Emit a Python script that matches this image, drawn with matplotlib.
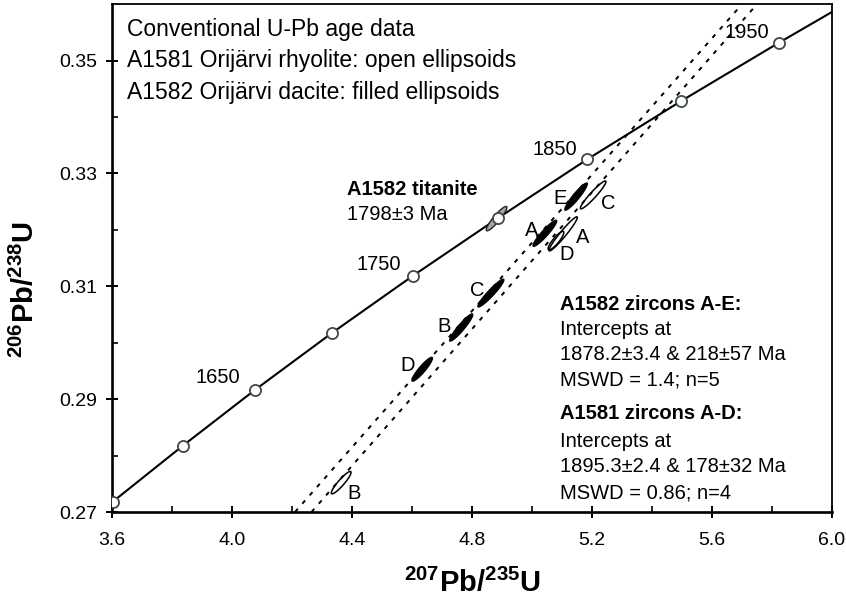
import numpy as np
import matplotlib
matplotlib.use("Agg")
import matplotlib.pyplot as plt
from matplotlib.patches import Polygon

plt.rcParams['font.family'] = ['Liberation Sans', 'DejaVu Sans']
plt.rcParams['mathtext.fontset'] = 'custom'
plt.rcParams['mathtext.bf'] = 'Liberation Sans:bold'
plt.rcParams['mathtext.rm'] = 'Liberation Sans'
plt.rcParams['mathtext.default'] = 'bf'

### DATA

# concordia age markers (Ma) and their ratios
conc_ages = [1550, 1600, 1650, 1700, 1750, 1800, 1850, 1900, 1950, 2000]
conc_x = [3.602, 3.835, 4.078, 4.335, 4.604, 4.887, 5.184, 5.496, 5.824, 6.168]
conc_y = [0.2718, 0.2817, 0.2917, 0.3018, 0.3119, 0.3221, 0.3325, 0.3428, 0.3532, 0.3638]
labelled_ages = [1650, 1750, 1850, 1950]
age_label_x = [3.953, 4.49, 5.077, 5.717]
age_label_y = [0.2939, 0.3139, 0.3342, 0.3550]

# discordia chords: A1582 (left), A1581 (right)
chord_x = [[4.21, 5.70], [4.265, 5.75]]
chord_y = [[0.27, 0.36], [0.27, 0.36]]

# A1582 zircons (filled)
fill_names = ['E', 'A', 'C', 'B', 'D']
fill_x = [5.147, 5.043, 4.863, 4.764, 4.634]
fill_y = [0.3259, 0.3194, 0.3088, 0.3027, 0.2953]
fill_dx = [0.074, 0.078, 0.086, 0.076, 0.067]
fill_dy = [0.0048, 0.0046, 0.0049, 0.0048, 0.0042]
fill_lab_x = [5.093, 4.999, 4.818, 4.707, 4.584]
fill_lab_y = [0.3255, 0.3199, 0.3093, 0.3028, 0.2960]

# A1581 zircons (open)
open_names = ['C', 'A', 'D', 'B']
open_x = [5.204, 5.104, 5.08, 4.364]
open_y = [0.3262, 0.3193, 0.3181, 0.2752]
open_dx = [0.084, 0.093, 0.05, 0.064]
open_dy = [0.0049, 0.0060, 0.0032, 0.0039]
open_lab_x = [5.254, 5.169, 5.116, 4.407]
open_lab_y = [0.3246, 0.3187, 0.3157, 0.2733]

# A1582 titanite
tit_x, tit_y, tit_dx, tit_dy = 4.882, 0.3220, 0.0667, 0.00425

fig = plt.figure(figsize=(8.46, 6.02), dpi=100)
ax = fig.add_axes([0.1324, 0.1495, 0.851, 0.8435])
ax.set_xlim(3.6, 6.0)
ax.set_ylim(0.27, 0.36)


def ellipse(cx, cy, dx, dy, w_px, **kw):
    # build the ellipse in pixel space so it keeps its shape on the skewed axes
    T = ax.transData
    c = T.transform((cx, cy))
    u = T.transform((cx + dx / 2, cy + dy / 2)) - c
    n = np.array([-u[1], u[0]]) / np.hypot(*u) * w_px / 2
    t = np.linspace(0, 2 * np.pi, 80)
    pts = c + np.outer(np.cos(t), u) + np.outer(np.sin(t), n)
    ax.add_patch(Polygon(T.inverted().transform(pts), closed=True, zorder=4, **kw))


# chords
for cx_, cy_ in zip(chord_x, chord_y):
    ax.plot(cx_, cy_, color='black', lw=1.4, ls=(0, (2.2, 3.5)), zorder=2)

# concordia
ax.plot(conc_x, conc_y, color='black', lw=1.5, zorder=3)
ax.plot(conc_x, conc_y, 'o', ms=8, mfc='white', mec='#3d4a45', mew=1.3, zorder=5)
for a, lx, ly in zip(labelled_ages, age_label_x, age_label_y):
    ax.text(lx, ly, str(a), fontsize=14.5, ha='center', va='center', zorder=6)

# ellipses
ellipse(tit_x, tit_y, tit_dx, tit_dy, 6.5, facecolor='#a6a6a6', edgecolor='#222222', lw=1.0)
for i in range(len(fill_names)):
    ellipse(fill_x[i], fill_y[i], fill_dx[i], fill_dy[i], 6.5, facecolor='black', edgecolor='black', lw=0.8)
    ax.text(fill_lab_x[i], fill_lab_y[i], fill_names[i], fontsize=14.5, ha='center', va='center')
for i in range(len(open_names)):
    ellipse(open_x[i], open_y[i], open_dx[i], open_dy[i], 6, facecolor='none', edgecolor='black', lw=1.1)
    ax.text(open_lab_x[i], open_lab_y[i], open_names[i], fontsize=14.5, ha='center', va='center')

# text blocks
head = ['Conventional U-Pb age data',
        'A1581 Orijärvi rhyolite: open ellipsoids',
        'A1582 Orijärvi dacite: filled ellipsoids']
for k, s in enumerate(head):
    ax.text(15 / 720, (512 - 30 - k * 31.5) / 507, s, transform=ax.transAxes,
            fontsize=16.5, va='center')

ax.text(4.383, 0.3272, 'A1582 titanite', fontsize=14.5, fontweight='bold', va='center')
ax.text(4.383, 0.3227, '1798±3 Ma', fontsize=14.5, va='center')

right_block = [('A1582 zircons A-E:', 'bold'), ('Intercepts at', 'normal'),
               ('1878.2±3.4 & 218±57 Ma', 'normal'), ('MSWD = 1.4; n=5', 'normal'),
               ('A1581 zircons A-D:', 'bold'), ('Intercepts at', 'normal'),
               ('1895.3±2.4 & 178±32 Ma', 'normal'), ('MSWD = 0.86; n=4', 'normal')]
ys = [305, 330, 355, 380, 414, 442, 467, 493]
for (s, wt), yp in zip(right_block, ys):
    ax.text(448 / 720, (512 - yp) / 507, s, transform=ax.transAxes, fontsize=14.5,
            fontweight=wt, va='center')

# axes styling
ax.set_xticks(np.arange(3.6, 6.01, 0.4))
ax.set_xticks(np.arange(3.8, 6.0, 0.4), minor=True)
ax.set_yticks([0.27, 0.29, 0.31, 0.33, 0.35])
ax.set_yticks([0.28, 0.30, 0.32, 0.34], minor=True)
ax.set_xticklabels(['3.6', '4.0', '4.4', '4.8', '5.2', '5.6', '6.0'])
ax.set_yticklabels(['0.27', '0.29', '0.31', '0.33', '0.35'])
ax.tick_params(which='major', direction='inout', length=9, width=1.4, labelsize=14)
ax.tick_params(axis='x', which='major', pad=10)
ax.tick_params(axis='y', which='major', pad=6)
ax.tick_params(which='minor', direction='in', length=4.5, width=1.2)
for side in ['left', 'bottom']:
    ax.spines[side].set_linewidth(1.9)
for side in ['top', 'right']:
    ax.spines[side].set_linewidth(1.3)

ax.set_xlabel('$^{207}$Pb/$^{235}$U', fontsize=21, fontweight='bold')
ax.xaxis.set_label_coords(0.5, -(583 - 512) / 507)
ax.set_ylabel('$^{206}$Pb/$^{238}$U', fontsize=21, fontweight='bold')
ax.yaxis.set_label_coords(-(112 - 25) / 720, (512 - 290) / 507)
ax.xaxis.label.set_va('center')
ax.yaxis.label.set_va('center')

fig.savefig('out.png', dpi=100)
